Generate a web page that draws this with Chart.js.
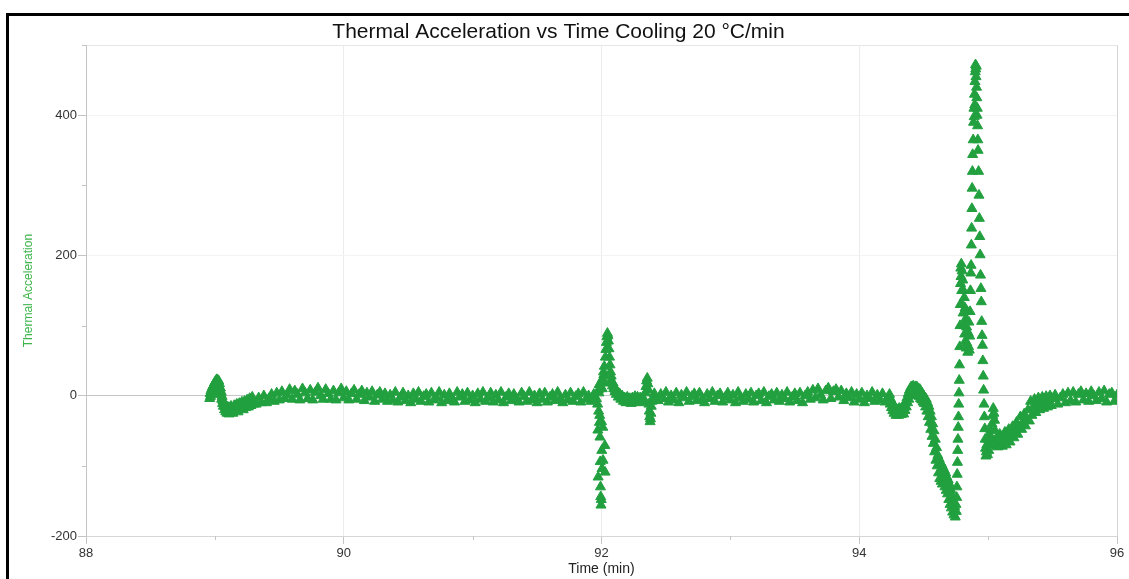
<!DOCTYPE html>
<html>
<head>
<meta charset="utf-8">
<title>Thermal Acceleration vs Time</title>
<script src="https://cdn.jsdelivr.net/npm/chart.js@4.4.1/dist/chart.umd.min.js"></script>
<style>
  html, body { margin: 0; padding: 0; background: #fff; }
  #wrap { width: 1129px; height: 579px; }
</style>
</head>
<body>
<div id="wrap"><canvas id="chart" width="1129" height="579"></canvas></div>
<script>
// [time (min), thermal acceleration] samples, split by run phase
const onset = [
  [88.960, -4], [88.963, 3], [88.966, -1], [88.970, 7], [88.973, 2], [88.976, 10], [88.980, 4], [88.983, 13],
  [88.986, 7], [88.990, 15], [88.993, 10], [88.996, 18], [89.000, 12], [89.003, 20], [89.006, 15], [89.010, 22],
  [89.013, 17], [89.016, 23], [89.020, 19], [89.023, 22], [89.026, 16], [89.030, 21], [89.033, 13], [89.036, 17],
  [89.040, 8], [89.043, 11], [89.046, 2], [89.050, 5], [89.053, -5], [89.056, -1], [89.060, -11], [89.063, -7],
  [89.066, -15], [89.070, -12], [89.075, -20], [89.080, -16], [89.085, -23], [89.090, -18], [89.095, -25], [89.100, -16],
  [89.105, -22], [89.110, -26], [89.115, -17], [89.120, -24], [89.125, -15], [89.130, -22], [89.140, -25], [89.150, -14],
  [89.160, -21], [89.170, -12], [89.180, -23], [89.190, -11], [89.200, -19], [89.210, -9], [89.220, -20], [89.230, -8],
  [89.240, -17], [89.250, -6], [89.260, -16], [89.270, -4], [89.280, -14], [89.290, -2], [89.300, -12]
];

const settle = [
  [89.32, -12], [89.34, -3], [89.36, -10], [89.38, 0], [89.40, -10], [89.42, -4], [89.44, 2], [89.46, -8], [89.48, 4], [89.50, -6],
  [89.52, 6], [89.54, -4], [89.56, 1], [89.58, 9], [89.60, -5], [89.62, 7], [89.64, 2], [89.66, -6], [89.68, 10], [89.70, 4],
  [89.72, -4], [89.74, 8], [89.76, -6], [89.78, 5], [89.80, 11], [89.82, 0], [89.84, -5], [89.86, 9], [89.88, 3], [89.90, -5],
  [89.92, 7], [89.94, -6], [89.96, 4], [89.98, 10], [90.00, -3], [90.02, 6], [90.04, -6], [90.06, 3], [90.08, 8], [90.10, -5],
  [90.12, 2], [90.14, 7], [90.16, -7], [90.18, 4], [90.20, -2], [90.22, 6], [90.24, -8], [90.26, 1], [90.28, 5], [90.30, -5],
  [90.32, 3], [90.34, -8], [90.36, 1], [90.38, -6], [90.40, 5], [90.42, -9], [90.44, -2], [90.46, 4], [90.48, -7], [90.50, 0],
  [90.52, -10], [90.54, 3], [90.56, -5], [90.58, 5], [90.60, -8], [90.62, -1], [90.64, 2], [90.66, -9], [90.68, 4], [90.70, -6],
  [90.72, -3], [90.74, 5], [90.76, -10], [90.78, 1], [90.80, -7], [90.82, 3], [90.84, -4], [90.86, -9], [90.88, 5], [90.90, -2],
  [90.92, 2], [90.94, -8], [90.96, 4], [90.98, -6], [91.00, 0], [91.02, -10], [91.04, 3], [91.06, -5], [91.08, 5], [91.10, -8],
  [91.12, -3], [91.14, 4], [91.16, -9], [91.18, 1], [91.20, -6], [91.22, 5], [91.24, -10], [91.26, -2], [91.28, 3], [91.30, -7],
  [91.32, 2], [91.34, -4], [91.36, -9], [91.38, 4], [91.40, -1], [91.42, -8], [91.44, 5], [91.46, -6], [91.48, 0], [91.50, -10],
  [91.52, 3], [91.54, -5], [91.56, 4], [91.58, -9], [91.60, -2], [91.62, 2], [91.64, -7], [91.66, 5], [91.68, -4], [91.70, -10],
  [91.72, 1], [91.74, -6], [91.76, 4], [91.78, -8], [91.80, -1], [91.82, 3], [91.84, -9], [91.86, 5], [91.88, -5], [91.90, 0],
  [91.92, -8], [91.94, 2], [91.96, -4]
];

const firstSpike = [
  [91.970, -12], [91.972, -49], [91.974, -116], [91.976, 8], [91.978, -22], [91.980, 4], [91.982, 16], [91.984, -38],
  [91.986, -28], [91.988, -59], [91.990, -94], [91.992, -130], [91.994, -144], [91.996, -156], [91.998, -148], [92.000, -37],
  [92.002, -78], [92.004, -104], [92.006, 10], [92.008, 24], [92.010, -45], [92.012, -92], [92.014, 18], [92.016, 34],
  [92.018, 30], [92.022, 42], [92.026, -71], [92.028, -109], [92.030, 55], [92.034, 66], [92.038, 76], [92.042, 84],
  [92.046, 89], [92.050, 86], [92.054, 78], [92.058, 67], [92.062, 55], [92.066, 44], [92.070, 34], [92.073, 22],
  [92.075, 28], [92.080, 20], [92.085, 14], [92.090, 18], [92.095, 10], [92.100, 13], [92.105, 6], [92.110, 9],
  [92.115, 2], [92.120, 5], [92.130, -2], [92.140, 3], [92.150, -5], [92.160, 0], [92.170, -8], [92.180, -3],
  [92.190, -10], [92.200, -2], [92.210, -9], [92.220, -4], [92.230, -11], [92.240, -3], [92.250, -9], [92.260, -1],
  [92.270, -8], [92.280, -2], [92.290, -10], [92.300, -3], [92.310, -9], [92.320, -2], [92.330, -7], [92.340, 4],
  [92.345, 13], [92.350, 21], [92.355, 25], [92.360, 17], [92.365, 8], [92.368, -12], [92.371, -22], [92.374, -30],
  [92.377, -37], [92.380, -33], [92.383, -25], [92.386, -15], [92.390, -8], [92.400, -3], [92.410, 3], [92.420, -6]
];

const plateau = [
  [92.44, -7], [92.46, 2], [92.48, -4], [92.50, 5], [92.52, -9], [92.54, 0], [92.56, -6], [92.58, 4], [92.60, -10], [92.62, 1],
  [92.64, -3], [92.66, 5], [92.68, -8], [92.70, -1], [92.72, 3], [92.74, -7], [92.76, 4], [92.78, -5], [92.80, -10], [92.82, 2],
  [92.84, -4], [92.86, 5], [92.88, -8], [92.90, 0], [92.92, 3], [92.94, -9], [92.96, -2], [92.98, 4], [93.00, -6], [93.02, 1],
  [93.04, -10], [93.06, 5], [93.08, -3], [93.10, -8], [93.12, 2], [93.14, -5], [93.16, 4], [93.18, -9], [93.20, 0], [93.22, 3],
  [93.24, -7], [93.26, 5], [93.28, -10], [93.30, -1], [93.32, 2], [93.34, -6], [93.36, 4], [93.38, -8], [93.40, 1], [93.42, -4],
  [93.44, 5], [93.46, -9], [93.48, -2], [93.50, 3], [93.52, -7], [93.54, 4], [93.56, -10], [93.58, 0], [93.60, 5], [93.62, -5],
  [93.64, 8], [93.66, -3], [93.68, 10], [93.70, 1], [93.72, -6], [93.74, 7], [93.76, 11], [93.78, -4], [93.80, 6], [93.82, 9],
  [93.84, -2], [93.86, 7], [93.88, -7], [93.90, 3], [93.92, -3], [93.94, 5], [93.96, -9], [93.98, 2], [94.00, -5], [94.02, 4],
  [94.04, -10], [94.06, 0], [94.08, -4], [94.10, 5], [94.12, -8], [94.14, 1], [94.16, -6], [94.18, 3], [94.20, -9], [94.22, -3]
];

const transition = [
  [94.230, -6], [94.235, 2], [94.240, -12], [94.245, -5], [94.250, -17], [94.255, -9], [94.260, -21], [94.265, -14],
  [94.270, -25], [94.275, -17], [94.280, -22], [94.285, -28], [94.290, -19], [94.295, -26], [94.300, -21], [94.305, -28],
  [94.310, -18], [94.315, -25], [94.320, -20], [94.325, -27], [94.330, -17], [94.335, -24], [94.340, -19], [94.345, -26],
  [94.350, -14], [94.355, -21], [94.360, -9], [94.365, -16], [94.370, -3], [94.375, -10], [94.380, 3], [94.385, -5],
  [94.390, 8], [94.395, 0], [94.400, 12], [94.405, 4], [94.410, 13], [94.415, 5], [94.420, 14], [94.425, 2],
  [94.430, 11], [94.435, 4], [94.440, 13], [94.445, 1], [94.450, 12], [94.455, 3], [94.460, 10], [94.465, -1],
  [94.470, 9], [94.475, -4], [94.480, 6], [94.485, -6], [94.490, 3], [94.495, -9], [94.500, 0], [94.505, -11],
  [94.510, -3], [94.515, -16], [94.520, -5], [94.525, -22], [94.530, -10], [94.535, -30], [94.540, -15], [94.545, -38],
  [94.550, -22], [94.555, -48], [94.560, -30], [94.565, -58], [94.570, -40], [94.575, -68], [94.580, -50], [94.585, -80],
  [94.590, -62], [94.595, -92], [94.600, -74], [94.605, -100], [94.610, -85], [94.615, -110], [94.620, -90], [94.625, -118],
  [94.630, -95], [94.635, -122], [94.640, -98], [94.645, -126], [94.650, -102], [94.655, -120], [94.660, -106], [94.665, -130],
  [94.670, -110], [94.675, -135], [94.680, -116], [94.685, -140], [94.690, -120], [94.695, -148], [94.700, -126], [94.705, -155],
  [94.710, -134], [94.715, -160], [94.720, -142], [94.725, -166], [94.730, -150], [94.735, -170], [94.740, -158], [94.745, -173],
  [94.750, -155], [94.753, -165], [94.756, -145], [94.758, -130], [94.760, -112], [94.762, -95], [94.764, -78], [94.766, -62],
  [94.768, -45], [94.770, -30], [94.772, -12], [94.774, 4], [94.776, 22], [94.778, 44], [94.780, 70], [94.782, 100],
  [94.784, 130], [94.786, 160], [94.788, 182], [94.790, 170], [94.792, 188], [94.795, 150], [94.798, 178], [94.800, 130],
  [94.803, 165], [94.806, 118], [94.809, 150], [94.812, 100], [94.815, 140], [94.818, 88], [94.821, 125], [94.824, 78],
  [94.827, 110], [94.830, 68], [94.833, 98], [94.836, 75], [94.839, 120], [94.842, 62], [94.845, 90], [94.848, 70],
  [94.851, 105], [94.854, 65], [94.857, 85], [94.860, 120], [94.863, 150], [94.866, 175], [94.868, 186], [94.870, 215],
  [94.872, 239], [94.874, 267], [94.876, 296], [94.878, 320], [94.880, 344], [94.884, 365], [94.887, 390], [94.890, 410],
  [94.892, 398], [94.894, 430], [94.896, 415], [94.898, 448], [94.900, 462], [94.902, 472], [94.904, 466], [94.906, 455],
  [94.908, 470], [94.910, 440], [94.912, 425], [94.914, 400], [94.916, 410], [94.918, 385], [94.920, 365], [94.922, 350],
  [94.926, 320], [94.929, 286], [94.932, 253], [94.935, 227], [94.938, 201], [94.941, 172], [94.944, 153], [94.947, 134],
  [94.950, 106], [94.953, 86], [94.956, 72], [94.959, 50], [94.962, 28], [94.965, 8], [94.968, -12], [94.971, -30],
  [94.974, -47], [94.977, -62], [94.980, -75], [94.983, -86], [94.986, -80], [94.990, -70], [94.995, -84], [95.000, -62],
  [95.005, -78], [95.010, -55], [95.015, -70], [95.020, -48], [95.025, -62], [95.030, -40], [95.035, -28], [95.040, -18],
  [95.045, -25], [95.050, -35], [95.055, -50], [95.060, -62], [95.065, -72], [95.070, -66], [95.075, -73], [95.080, -60],
  [95.085, -68], [95.090, -55]
];

const recovery = [
  [95.10, -58], [95.11, -72], [95.12, -63], [95.13, -52], [95.14, -70], [95.15, -60], [95.16, -48], [95.17, -66], [95.18, -55], [95.19, -44],
  [95.20, -60], [95.21, -50], [95.22, -38], [95.23, -55], [95.24, -45], [95.25, -30], [95.26, -48], [95.27, -38], [95.28, -26], [95.29, -43],
  [95.30, -33], [95.31, -20], [95.32, -36], [95.33, -8], [95.34, -28], [95.35, -16], [95.36, -5], [95.37, -24], [95.38, -12], [95.39, -3],
  [95.40, -20], [95.41, -9], [95.42, -2], [95.43, -18], [95.44, -7], [95.45, -1], [95.46, -16], [95.47, -6], [95.48, 0], [95.49, -14],
  [95.50, -4], [95.52, 1], [95.54, -12], [95.56, -3], [95.58, 2], [95.60, -10], [95.62, 4], [95.64, -7], [95.66, 5], [95.68, -9],
  [95.70, 2], [95.72, 6], [95.74, -6], [95.76, 3], [95.78, -8], [95.80, 6], [95.82, 0], [95.84, -7], [95.86, 5], [95.88, -4],
  [95.90, 7], [95.92, -9], [95.94, 2], [95.96, 4], [95.98, -8], [96.00, 1]
];

const xMajor = [88, 90, 92, 94, 96];
const xMinor = [89, 91, 93, 95];
const yMajor = [-200, 0, 200, 400];
const yMinor = [-100, 100, 300, 500];

const GREEN = '#22a03f';

const points = [onset, settle, firstSpike, plateau, transition, recovery]
  .flat()
  .map(([t, a]) => ({ x: t, y: a }));

// short minor tick marks plus the black outer frame
const extras = {
  id: 'extras',
  afterDraw(chart) {
    const { ctx, chartArea } = chart;
    const { x, y } = chart.scales;
    ctx.save();
    ctx.strokeStyle = '#c4c4c4';
    ctx.lineWidth = 1;
    ctx.beginPath();
    yMinor.forEach(v => {
      const py = Math.round(y.getPixelForValue(v)) + 0.5;
      ctx.moveTo(chartArea.left - 4, py);
      ctx.lineTo(chartArea.left, py);
    });
    xMinor.forEach(v => {
      const px = Math.round(x.getPixelForValue(v)) + 0.5;
      ctx.moveTo(px, chartArea.bottom);
      ctx.lineTo(px, chartArea.bottom + 4);
    });
    ctx.stroke();
    ctx.fillStyle = '#000';
    ctx.fillRect(6, 13, chart.width - 6, 3);
    ctx.fillRect(6, 13, 3, chart.height - 13);
    ctx.restore();
  }
};

new Chart(document.getElementById('chart'), {
  type: 'scatter',
  data: {
    datasets: [{
      label: 'Thermal Acceleration',
      data: points,
      pointStyle: 'triangle',
      pointRadius: 5.8,
      pointBorderWidth: 1,
      backgroundColor: GREEN,
      borderColor: GREEN,
      showLine: false,
      clip: 0
    }]
  },
  options: {
    responsive: false,
    animation: false,
    layout: { padding: { left: 0, right: 12, top: 0, bottom: 0 } },
    plugins: {
      legend: { display: false },
      tooltip: { enabled: false },
      title: {
        display: true,
        text: 'Thermal Acceleration vs Time Cooling 20 °C/min',
        color: '#111',
        font: { family: '"Liberation Sans", Arial, sans-serif', size: 21, weight: 'normal' },
        padding: { top: 19.4, bottom: 0.6 }
      }
    },
    scales: {
      x: {
        type: 'linear',
        min: 88,
        max: 96,
        afterFit: s => { s.height = 43; },
        ticks: {
          stepSize: 1,
          autoSkip: false,
          maxRotation: 0,
          padding: 2,
          color: '#333',
          font: { family: '"Liberation Sans", Arial, sans-serif', size: 13 },
          callback: v => xMajor.includes(v) ? v : ''
        },
        grid: {
          tickLength: 8,
          color: c => {
            const v = c.tick && c.tick.value;
            if (v === 96) return '#d6d6d6';
            if (v === 90 || v === 92 || v === 94) return '#ececec';
            return 'rgba(0,0,0,0)';
          },
          tickColor: c => xMajor.includes(c.tick && c.tick.value) ? '#c4c4c4' : 'rgba(0,0,0,0)'
        },
        border: { color: '#d6d6d6' },
        title: {
          display: true,
          text: 'Time (min)',
          color: '#222',
          font: { family: '"Liberation Sans", Arial, sans-serif', size: 14 },
          padding: { top: 0, bottom: 1.6 }
        }
      },
      y: {
        min: -200,
        max: 500,
        afterFit: s => { s.width = 86; },
        ticks: {
          stepSize: 100,
          autoSkip: false,
          padding: 1,
          color: '#333',
          font: { family: '"Liberation Sans", Arial, sans-serif', size: 13 },
          callback: v => yMajor.includes(v) ? v : ''
        },
        grid: {
          tickLength: 8,
          color: c => {
            const v = c.tick && c.tick.value;
            if (v === 0) return '#c6c6c6';
            if (v === 500) return '#e6e6e6';
            if (v === -200) return '#dadada';
            if (v === 200 || v === 400) return '#f3f3f3';
            return 'rgba(0,0,0,0)';
          },
          tickColor: c => yMajor.includes(c.tick && c.tick.value) ? '#c4c4c4' : 'rgba(0,0,0,0)'
        },
        border: { color: '#c4c4c4' },
        title: {
          display: true,
          text: 'Thermal Acceleration',
          color: '#3db54a',
          font: { family: '"Liberation Sans", Arial, sans-serif', size: 12 },
          padding: { top: 21, bottom: 0 }
        }
      }
    }
  },
  plugins: [extras]
});
</script>
</body>
</html>
